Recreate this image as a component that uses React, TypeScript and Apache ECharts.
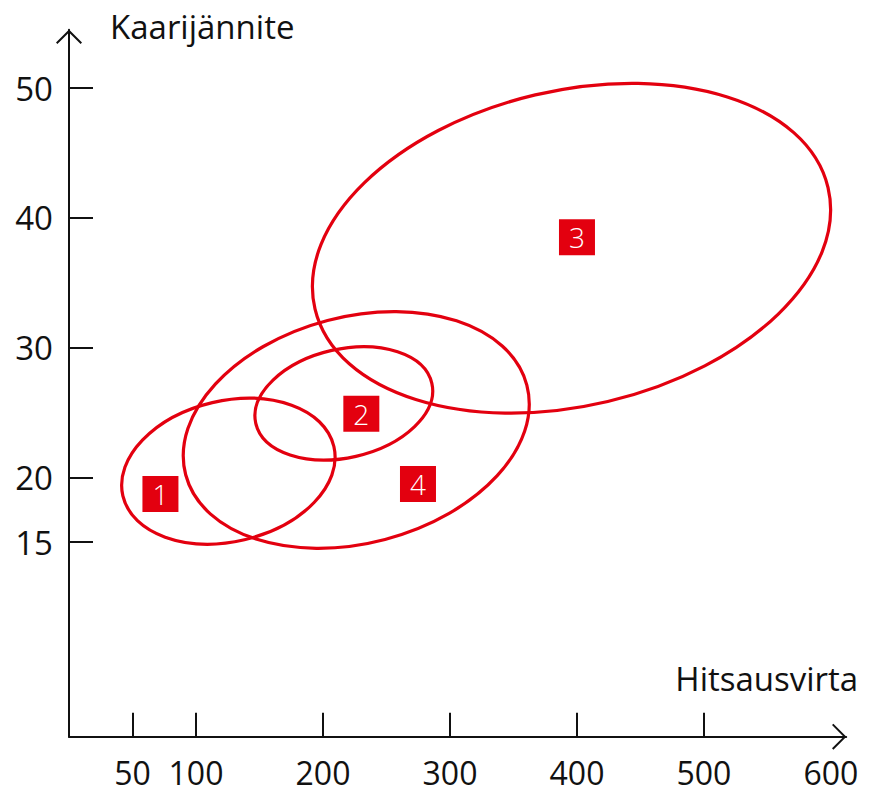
import React, { useEffect, useRef } from "react";
import * as echarts from "echarts";

// Tick / label values
const xTicks = [50, 100, 200, 300, 400, 500];
const xLabels = [50, 100, 200, 300, 400, 500, 600];
const yTicks = [15, 20, 30, 40, 50];
const yLabels = [15, 20, 30, 40, 50];

// Ellipses: [centerX (A), centerY (V), semi-major (A units), semi-minor (V units), tilt deg]
const ellipse1 = [125.5, 20.47, 85.3, 5.43, 13.2];
const ellipse2 = [216.4, 25.7, 71.1, 4.19, 12.8];
const ellipse3 = [395.7, 37.66, 207.6, 12.15, 13.3];
const ellipse4 = [226.2, 23.65, 138.9, 8.73, 14.7];

// Area number markers: [x, y, label]
const markers = [
  [72.0, 18.71, "1"],
  [230.2, 24.9, "2"],
  [400.0, 38.5, "3"],
  [274.8, 19.48, "4"],
];

const xName = "Hitsausvirta";
const yName = "Kaarijännite";

const RED = "#e3000f";
const INK = "#111111";
const FONT = "'Open Sans', 'Noto Sans', sans-serif";
const CHEVRON = "path://M0,13 L13,0 L26,13 L24.6,14.4 L13,2.8 L1.4,14.4 Z";

export default function App() {
  const ref = useRef<HTMLDivElement>(null);

  useEffect(() => {
    if (!ref.current) return;
    const chart = echarts.init(ref.current, null, { renderer: "svg" });

    const axisLine = {
      show: true,
      onZero: false,
      lineStyle: { color: INK, width: 2 },
      symbol: ["none", CHEVRON],
      symbolSize: [26, 14.4],
      symbolOffset: [0, -7],
    };

    chart.setOption({
      animation: false,
      backgroundColor: "#ffffff",
      grid: { left: 69, right: 28.8, top: 29.8, bottom: 59.3 },
      xAxis: {
        type: "value",
        min: 0,
        max: 612,
        name: xName,
        nameLocation: "end",
        nameGap: 12,
        nameMoveOverlap: false,
        nameTextStyle: {
          fontFamily: FONT,
          fontSize: 33,
          color: INK,
          align: "right",
          verticalAlign: "bottom",
          padding: [0, 0, 42, 0],
        },
        axisLine,
        axisTick: {
          show: true,
          inside: true,
          length: 24,
          lineStyle: { color: INK, width: 2 },
          customValues: xTicks,
        },
        axisLabel: {
          customValues: xLabels,
          fontFamily: FONT,
          fontSize: 32,
          lineHeight: 32,
          color: INK,
          margin: 20,
        },
        splitLine: { show: false },
      },
      yAxis: {
        type: "value",
        min: 0,
        max: 54.5,
        name: yName,
        nameLocation: "end",
        nameGap: 3,
        nameMoveOverlap: false,
        nameTextStyle: {
          fontFamily: FONT,
          fontSize: 33,
          color: INK,
          align: "left",
          verticalAlign: "middle",
          padding: [0, 0, 0, 41],
        },
        axisLine,
        axisTick: {
          show: true,
          inside: true,
          length: 24,
          lineStyle: { color: INK, width: 2 },
          customValues: yTicks,
        },
        axisLabel: {
          customValues: yLabels,
          fontFamily: FONT,
          fontSize: 33,
          color: INK,
          margin: 16,
        },
        splitLine: { show: false },
      },
      series: [
        {
          type: "custom",
          coordinateSystem: "cartesian2d",
          clip: false,
          data: [ellipse1, ellipse2, ellipse3, ellipse4],
          renderItem: (params: any, api: any) => {
            const c = api.coord([api.value(0), api.value(1)]);
            const rx = api.size([api.value(2), 0])[0];
            const ry = api.size([0, api.value(3)])[1];
            return {
              type: "ellipse",
              x: c[0],
              y: c[1],
              rotation: (api.value(4) * Math.PI) / 180,
              shape: { cx: 0, cy: 0, rx, ry },
              style: { fill: "none", stroke: RED, lineWidth: 3.2 },
            };
          },
          z: 2,
        },
        {
          type: "scatter",
          data: markers,
          symbol: "rect",
          symbolSize: 36,
          itemStyle: { color: RED, opacity: 1 },
          label: {
            show: true,
            position: "inside",
            formatter: (p: any) => p.value[2],
            fontFamily: FONT,
            fontSize: 28,
            fontWeight: 300,
            color: "#ffffff",
          },
          emphasis: { disabled: true },
          z: 3,
        },
      ],
    });

    return () => chart.dispose();
  }, []);

  return (
    <div
      ref={ref}
      style={{ position: "fixed", left: 0, top: 0, width: 875, height: 796, background: "#fff" }}
    />
  );
}
